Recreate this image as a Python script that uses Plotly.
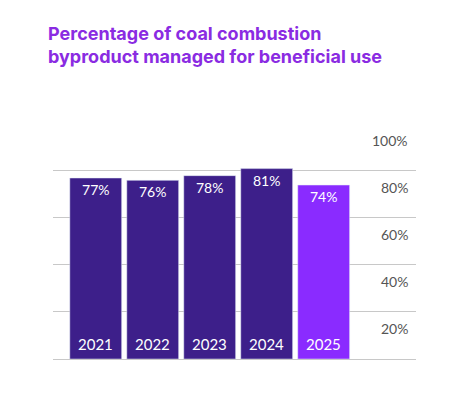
import plotly.graph_objects as go

years = ["2021", "2022", "2023", "2024", "2025"]
values = [77, 76, 78, 81, 74]
colors = ["#3d1f8a", "#3d1f8a", "#3d1f8a", "#3d1f8a", "#8a2bff"]
tick_vals = [20, 40, 60, 80, 100]

x = list(range(len(years)))

fig = go.Figure(go.Bar(
    x=x, y=values, marker_color=colors, width=0.91,
    text=[f"{v}%" for v in values], textposition="inside",
    insidetextanchor="end", textangle=0,
    textfont=dict(color="white", size=14, family="Lato"),
    hoverinfo="skip",
))

for i, yr in enumerate(years):
    fig.add_annotation(x=i, y=0, text=yr, showarrow=False, yanchor="bottom", yshift=4,
                       font=dict(color="white", size=15, family="Lato"))
for t in tick_vals:
    fig.add_annotation(x=1, xref="paper", y=t, text=f"{t}%", showarrow=False,
                       xanchor="right", yanchor="top", xshift=-6, yshift=-6,
                       font=dict(color="#555555", size=14, family="Lato"))

fig.update_layout(
    width=449, height=403, plot_bgcolor="white", paper_bgcolor="white",
    margin=dict(l=45, r=41, t=115, b=52, autoexpand=False), showlegend=False,
    title=dict(text="<b>Percentage of coal combustion<br>byproduct managed for beneficial use</b>",
               x=40 / 449, xref="container", xanchor="left",
               y=1 - 32 / 403, yref="container", yanchor="top",
               font=dict(color="#8a2be2", size=18, family="Inter", weight=500)),
    uniformtext=dict(minsize=8, mode="show"),
)
fig.update_xaxes(range=[-0.75, 5.62], showticklabels=False, showgrid=False, zeroline=False)
fig.update_yaxes(range=[0, 100.4], tickvals=tick_vals, showticklabels=False,
                 gridcolor="#c8c8c8", zeroline=True, zerolinecolor="#c8c8c8", zerolinewidth=1)

fig.write_html("out.html")
